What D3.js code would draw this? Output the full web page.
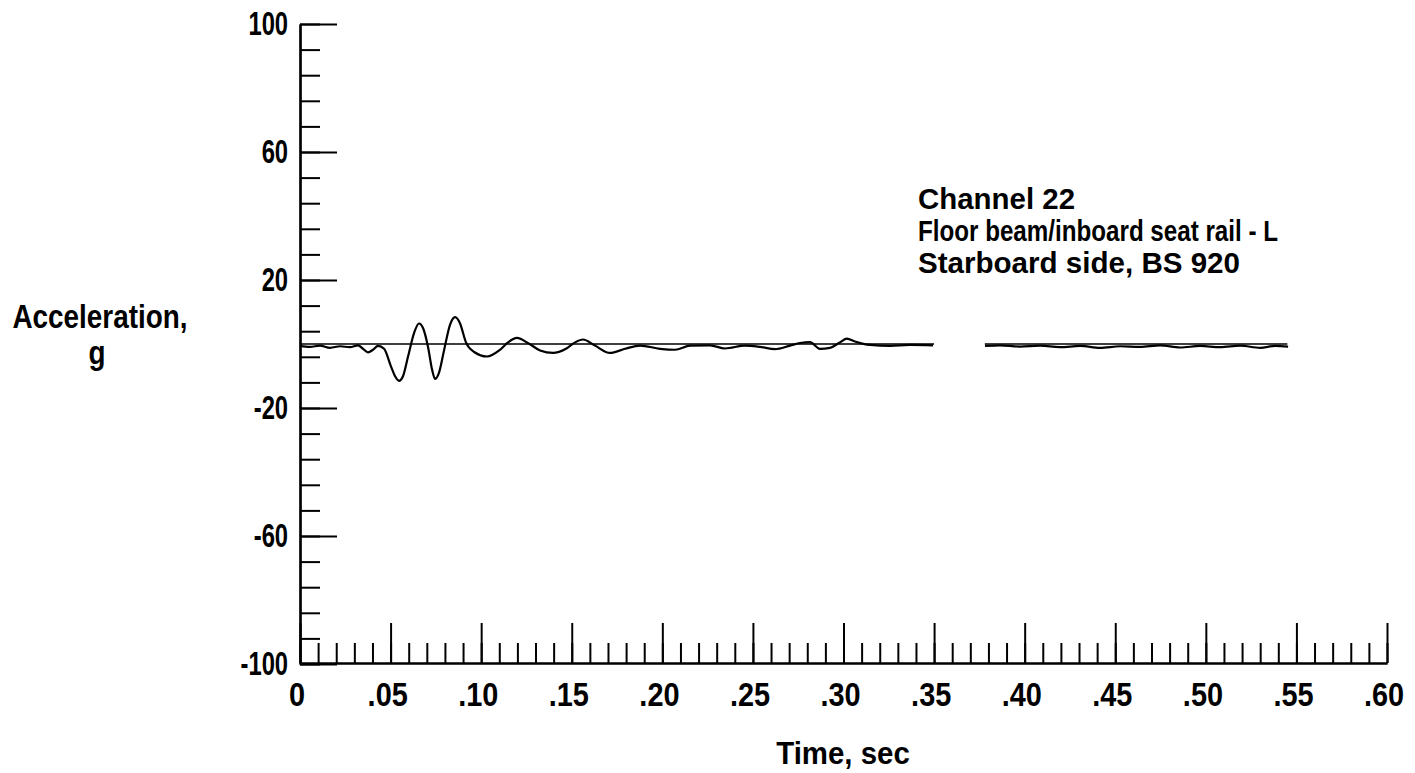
<!DOCTYPE html>
<html lang="en">

<head>
    <meta charset="UTF-8">
    <script src="https://d3js.org/d3.v7.min.js"></script>
    <title>Channel 22</title>
    <style>
        body {
            margin: 0;
            background: #fff;
        }

        text {
            font-family: "Liberation Sans", Arial, sans-serif;
            font-weight: bold;
            fill: #000;
        }
    </style>
</head>

<body>
    <script>
        // axis ticks
        var timeMajor = [0, .05, .10, .15, .20, .25, .30, .35, .40, .45, .50, .55, .60]
        var timeLabels = ["0", ".05", ".10", ".15", ".20", ".25", ".30", ".35", ".40", ".45", ".50", ".55", ".60"]
        var accelMajor = [100, 60, 20, -20, -60, -100]
        var accelLabels = ["100", "60", "20", "-20", "-60", "-100"]

        // zero reference trace (gap near .36 sec)
        var refTime = [0, 0.35, null, 0.378, 0.545]
        var refAccel = [0, 0, null, 0, 0]

        var sigTime = [0, .0055, .011, .0166, .0221, .0276, .032, .0348, .0375, .0403, .0431, .0464, .0502, .0524, .0547,
            .0569, .0596, .0630, .0657, .0679, .0707, .0729, .0745, .0767, .0795, .0828, .0856, .0883, .0916, .0961,
            .1032, .1104, .1148, .1198, .1253, .1325, .1397, .1468, .1518, .1562, .1628, .1711, .1794, .1877, .1987,
            .2070, .2153, .2263, .2346, .2456, .2539, .2622, .2705, .2760, .2815, .2870, .2925, .2980, .3019, .3063,
            .3146, .3257, .3367, .3494, null,
            .3781, .3864, .3974, .4085, .4195, .4306, .4416, .4527, .4637, .4748, .4858, .4969, .5079, .5190, .5300,
            .5383, .5454]
        var sigAccel = [-0.6, -0.9, -0.5, -1.2, -0.7, -1.0, -0.4, -1.5, -2.6, -1.8, -0.6, -1.5, -7, -10, -11.5,
            -10, -4, 3.5, 6.4, 5, -1, -8, -10.9, -9, -2, 6, 8.4, 6.5, 0.5, -2.5,
            -3.9, -1.8, 0.5, 1.9, 0.5, -2, -2.8, -1.5, 0.5, 1.4, -0.5, -2.8, -1.5, -0.5, -1.5,
            -1.8, -0.5, -0.4, -1.4, -0.5, -0.9, -1.6, -0.5, 0.3, 0.6, -1.5, -1.2, 0.5, 1.7, 0.8,
            -0.3, -0.6, -0.3, -0.4, null,
            -0.6, -0.4, -0.8, -0.5, -1.0, -0.6, -1.2, -0.7, -0.9, -0.4, -1.1, -0.6, -1.0, -0.5, -1.2,
            -0.6, -0.8]

        var note = ["Channel 22", "Floor beam/inboard seat rail - L", "Starboard side, BS 920"]

        var svg = d3.select("body")
            .append("svg")
            .attr("width", 1415)
            .attr("height", 773)

        var x = d3.scaleLinear().domain([0, 0.6]).range([300, 1387])
        var y = d3.scaleLinear().domain([-100, 100]).range([664, 24])

        // minor ticks first, no labels
        svg.append("g")
            .attr("transform", "translate(300,0)")
            .call(d3.axisLeft(y).tickValues(d3.range(-100, 101, 8)).tickSizeInner(-20).tickSizeOuter(0).tickFormat(""))
        svg.append("g")
            .attr("transform", "translate(0,663)")
            .call(d3.axisBottom(x).tickValues(d3.range(0, 61).map(function (i) { return i / 100 })).tickSizeInner(-20).tickSizeOuter(0).tickFormat(""))

        // major ticks with labels
        var yAxis = svg.append("g")
            .attr("transform", "translate(300,0)")
            .call(d3.axisLeft(y).tickValues(accelMajor).tickSizeInner(-37).tickSizeOuter(0).tickPadding(17)
                .tickFormat(function (d, i) { return accelLabels[i] }))
        var xAxis = svg.append("g")
            .attr("transform", "translate(0,663)")
            .call(d3.axisBottom(x).tickValues(timeMajor).tickSizeInner(-40).tickSizeOuter(0).tickPadding(19)
                .tickFormat(function (d, i) { return timeLabels[i] }))

        svg.selectAll(".domain").attr("stroke", "#000").attr("stroke-width", 2.2)
        svg.selectAll(".tick line").attr("stroke", "#000").attr("stroke-width", 2)
        svg.selectAll(".tick text").attr("font-size", 34).attr("fill", "#000")
            .style("font-family", null)
        // the plotter lettering is condensed
        yAxis.selectAll(".tick text").attr("transform", "scale(0.7,1)")
        xAxis.selectAll(".tick text").attr("transform", "scale(0.85,1)").attr("dx", -4)
        svg.selectAll(".tick text").attr("font-family", null)

        // traces
        var line = d3.line()
            .defined(function (d) { return d[0] !== null })
            .x(function (d) { return x(d[0]) })
            .y(function (d) { return y(d[1]) })

        var refData = refTime.map(function (t, i) { return [t, refAccel[i]] })
        var sigData = sigTime.map(function (t, i) { return [t, sigAccel[i]] })

        svg.append("path")
            .attr("d", line(refData))
            .attr("fill", "none")
            .attr("stroke", "#000")
            .attr("stroke-width", 1.6)

        svg.append("path")
            .attr("d", line.curve(d3.curveMonotoneX)(sigData))
            .attr("fill", "none")
            .attr("stroke", "#000")
            .attr("stroke-width", 2.2)

        // axis titles
        svg.append("text").attr("transform", "translate(100,328) scale(0.82,1)").attr("text-anchor", "middle")
            .attr("font-size", 34).text("Acceleration,")
        svg.append("text").attr("transform", "translate(97,364) scale(0.82,1)").attr("text-anchor", "middle")
            .attr("font-size", 34).text("g")
        svg.append("text").attr("transform", "translate(843,764) scale(0.95,1)").attr("text-anchor", "middle")
            .attr("font-size", 31).text("Time, sec")

        // channel note, line widths as lettered on the plot
        var noteWidth = [157, 360, 322]
        svg.selectAll(".note")
            .data(note)
            .join("text")
            .attr("class", "note")
            .attr("x", 918)
            .attr("y", function (d, i) { return 209 + i * 32 })
            .attr("font-size", 29)
            .attr("textLength", function (d, i) { return noteWidth[i] })
            .attr("lengthAdjust", "spacingAndGlyphs")
            .text(function (d) { return d })
    </script>
</body>

</html>
